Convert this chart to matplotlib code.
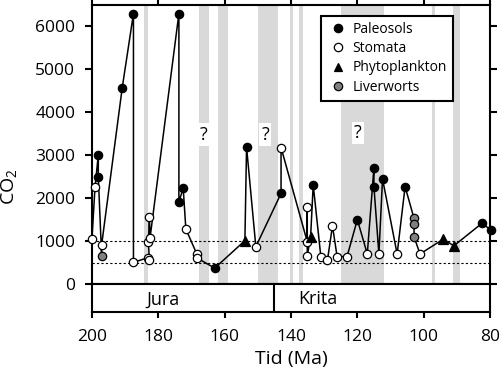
import matplotlib
matplotlib.use("Agg")
import matplotlib.pyplot as plt
from matplotlib.lines import Line2D

plt.rcParams['font.family'] = ['Open Sans', 'DejaVu Sans']
plt.rcParams['mathtext.fontset'] = 'custom'
plt.rcParams['mathtext.rm'] = 'Open Sans'

# data in plotting order (age Ma, CO2 ppm, proxy)
alder = [200, 199.1, 198.1, 198.1, 197.1, 197.1, 190.9, 187.5, 187.5, 183, 182.7, 183,
         182.7, 182.5, 173.8, 173.8, 172.5, 171.7, 168.4, 168.4, 163, 153.9, 153.4, 150.6,
         143, 143, 135.1, 135.1, 135.1, 134.1, 133.3, 131, 129, 127.5, 126.1, 123.1,
         120, 117, 115, 115, 113.5, 112.4, 108, 105.6, 102.9, 102.9, 102.9, 101.1,
         94.1, 90.9, 82.5, 79.8]
co2 = [1060, 2250, 3010, 2500, 660, 907, 4565, 6300, 505, 615, 560, 970,
       1565, 1075, 6300, 1915, 2230, 1280, 700, 610, 370, 1010, 3190, 870,
       2110, 3180, 985, 1800, 660, 1085, 2310, 635, 560, 1355, 640, 640,
       1500, 700, 2705, 2270, 700, 2450, 700, 2270, 1527, 1395, 1100, 700,
       1045, 890, 1410, 1270]
typ = ['S', 'S', 'P', 'P', 'L', 'S', 'P', 'P', 'S', 'S', 'S', 'S',
       'S', 'S', 'P', 'P', 'P', 'S', 'S', 'S', 'P', 'T', 'P', 'S',
       'P', 'S', 'S', 'S', 'S', 'T', 'P', 'S', 'S', 'S', 'S', 'S',
       'P', 'S', 'P', 'P', 'S', 'P', 'S', 'P', 'L', 'L', 'L', 'S',
       'T', 'T', 'P', 'P']

# grey bands (start, end in Ma)
band_fra = [184.3, 167.7, 162, 150, 140.3, 137.6, 125, 97.6, 91.3]
band_til = [183.1, 164.7, 159, 144, 139.4, 136.5, 112, 96.6, 89]
sporsmal_x = [166.2, 147.8, 119.8]
sporsmal_y = [3480, 3480, 3520]

stil = {'P': dict(marker='o', mfc='black', label='Paleosols'),
        'S': dict(marker='o', mfc='white', label='Stomata'),
        'T': dict(marker='^', mfc='black', label='Phytoplankton'),
        'L': dict(marker='o', mfc='#808080', label='Liverworts')}

fig = plt.figure(figsize=(5, 3.74), dpi=100)
ax = fig.add_axes([0.184, 0.2406, 0.796, 0.746])
ax2 = fig.add_axes([0.184, 0.1658, 0.796, 0.0749])

for a, b in zip(band_fra, band_til):
    ax.axvspan(a, b, color='#d9d9d9', lw=0, zorder=0)
ax.axhline(1000, color='black', ls=(0, (2, 2)), lw=0.8, zorder=1)
ax.axhline(500, color='black', ls=(0, (2, 2)), lw=0.8, zorder=1)

for x, y in zip(sporsmal_x, sporsmal_y):
    ax.text(x, y, '?', fontsize=13, ha='center', va='center', zorder=2,
            bbox=dict(facecolor='white', edgecolor='none', pad=1.5))

ax.plot(alder, co2, color='black', lw=1.1, zorder=3, clip_on=False)
for k in ['P', 'S', 'T', 'L']:
    xs = [alder[i] for i in range(len(typ)) if typ[i] == k]
    ys = [co2[i] for i in range(len(typ)) if typ[i] == k]
    ax.plot(xs, ys, ls='none', marker=stil[k]['marker'], mfc=stil[k]['mfc'],
            mec='black', mew=0.9, ms=6 if k != 'T' else 6.5, zorder=4, clip_on=False)

handles = [Line2D([], [], ls='none', marker=stil[k]['marker'], mfc=stil[k]['mfc'],
                  mec='black', mew=0.9, ms=6, label=stil[k]['label']) for k in ['P', 'S', 'T', 'L']]
leg = ax.legend(handles=handles, loc='upper right', bbox_to_anchor=(0.907, 0.961),
                borderaxespad=0, fontsize=10, fancybox=False, framealpha=1,
                handlelength=1.64, handletextpad=0.19, labelspacing=0.3,
                borderpad=0.45, edgecolor='black')
leg.get_frame().set_linewidth(1.5)
leg.set_zorder(5)

ax.set_xlim(200, 80)
ax.set_ylim(0, 6500)
ax.set_yticks([0, 1000, 2000, 3000, 4000, 5000, 6000])
ax.set_xticks([200, 180, 160, 140, 120, 100, 80])
ax.tick_params(axis='y', direction='out', length=5, width=1.5, labelsize=12.5,
               left=True, right=True, pad=7)
ax.tick_params(axis='x', direction='out', length=10, width=1.5, bottom=False,
               top=True, labelbottom=False)
for s in ax.spines.values():
    s.set_linewidth(1.5)
ax.set_ylabel(r'CO$_\mathregular{2}$', fontsize=14)
ax.yaxis.set_label_coords(-0.18, 0.348)

ax2.set_xlim(200, 80)
ax2.set_ylim(0, 1)
ax2.axvline(145, color='black', lw=1.5)
ax2.text(178.5, 0.45, 'Jura', fontsize=13, ha='center', va='center')
ax2.text(132, 0.45, 'Krita', fontsize=13, ha='center', va='center')
ax2.set_yticks([])
ax2.set_xticks([200, 180, 160, 140, 120, 100, 80])
ax2.tick_params(axis='x', direction='out', length=4, width=1.5, labelsize=12.5, pad=8)
for s in ax2.spines.values():
    s.set_linewidth(1.5)
ax2.set_xlabel('Tid (Ma)', fontsize=14, labelpad=4)

fig.savefig('out.png', dpi=100)
